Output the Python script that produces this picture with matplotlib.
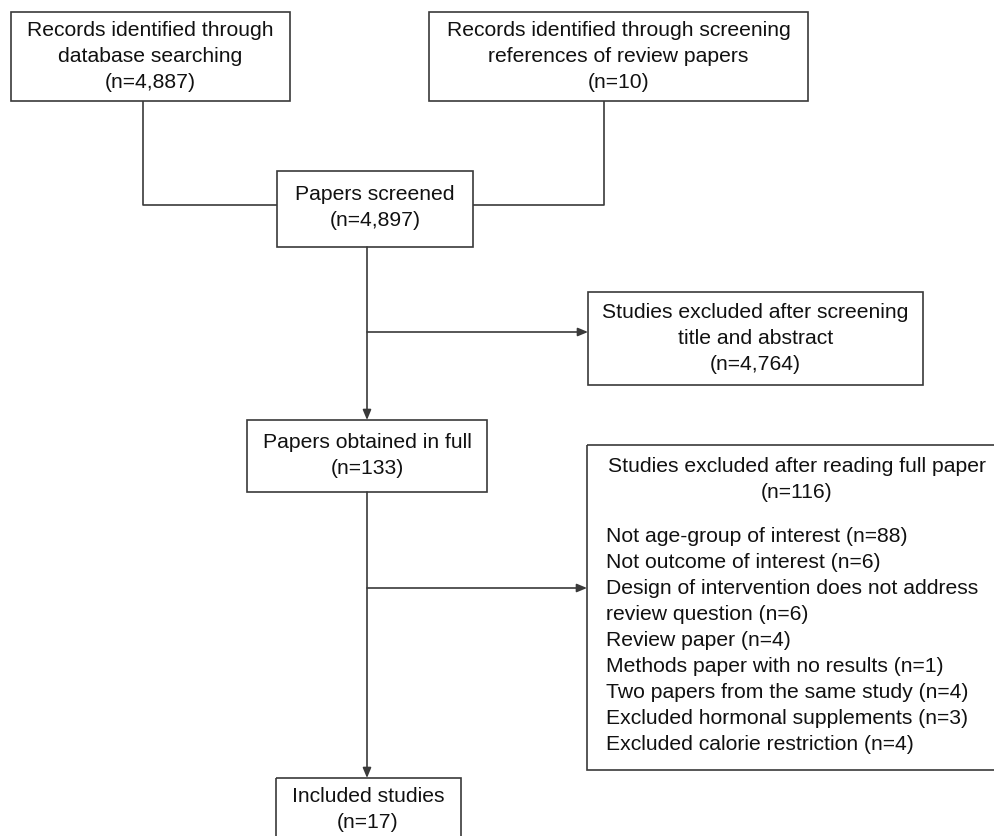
import matplotlib
matplotlib.use("Agg")
import matplotlib.pyplot as plt
from matplotlib.patches import Rectangle

plt.rcParams['font.family'] = ['Liberation Sans', 'DejaVu Sans']

# ── Flow counts ────────────────────────────────────────────────────────────────
n_database = "4,887"
n_references = "10"
n_screened = "4,897"
n_excl_title = "4,764"
n_full = "133"
n_excl_full = "116"
n_included = "17"

excl_reasons = [
    "Not age-group of interest (n=88)",
    "Not outcome of interest (n=6)",
    "Design of intervention does not address",
    "review question (n=6)",
    "Review paper (n=4)",
    "Methods paper with no results (n=1)",
    "Two papers from the same study (n=4)",
    "Excluded hormonal supplements (n=3)",
    "Excluded calorie restriction (n=4)",
]

W, H = 995, 836
fig = plt.figure(figsize=(W / 100, H / 100), dpi=100)
ax = fig.add_axes([0, 0, 1, 1])
ax.set_xlim(0, W)
ax.set_ylim(H, 0)
ax.axis("off")

LC = "#3a3a3a"
LW = 1.2
FS = 15.2
LH = 26  # line height in px


def box(x0, y0, x1, y1):
    ax.add_patch(Rectangle((x0, y0), x1 - x0, y1 - y0, fill=False,
                           edgecolor=LC, linewidth=LW, clip_on=False))


def lines_c(cx, y_first, lines):
    for i, t in enumerate(lines):
        ax.text(cx, y_first + i * LH, t, ha="center", va="center", fontsize=FS, color="#111111")


def seg(xs, ys):
    ax.plot(xs, ys, color=LC, linewidth=LW, solid_capstyle="butt")


def arrow(x0, y0, x1, y1):
    ax.annotate("", xy=(x1, y1), xytext=(x0, y0),
                arrowprops=dict(arrowstyle="-|>,head_length=0.6,head_width=0.25",
                                color=LC, lw=LW, shrinkA=0, shrinkB=0))


# ── Boxes ──────────────────────────────────────────────────────────────────────
box(11, 12, 290, 101)
lines_c(150.5, 31, ["Records identified through", "database searching", f"(n={n_database})"])

box(429, 12, 808, 101)
lines_c(618.5, 31, ["Records identified through screening", "references of review papers",
                    f"(n={n_references})"])

box(277, 171, 473, 247)
lines_c(375, 195, ["Papers screened", f"(n={n_screened})"])

box(588, 292, 923, 385)
lines_c(755.5, 312, ["Studies excluded after screening", "title and abstract", f"(n={n_excl_title})"])

box(247, 420, 487, 492)
lines_c(367, 442, ["Papers obtained in full", f"(n={n_full})"])

box(587, 445, 1010, 770)
lines_c(797, 467, ["Studies excluded after reading full paper", f"(n={n_excl_full})"])
for i, t in enumerate(excl_reasons):
    ax.text(606, 537 + i * LH, t, ha="left", va="center", fontsize=FS, color="#111111")

box(276, 778, 461, 860)
lines_c(368, 796, ["Included studies", f"(n={n_included})"])

# ── Connectors ─────────────────────────────────────────────────────────────────
seg([143, 143, 277], [101, 205, 205])
seg([604, 604, 473], [101, 205, 205])
arrow(367, 247, 367, 420)
arrow(367, 332, 588, 332)
arrow(367, 492, 367, 778)
arrow(367, 588, 587, 588)

fig.savefig("out.png", dpi=100)
